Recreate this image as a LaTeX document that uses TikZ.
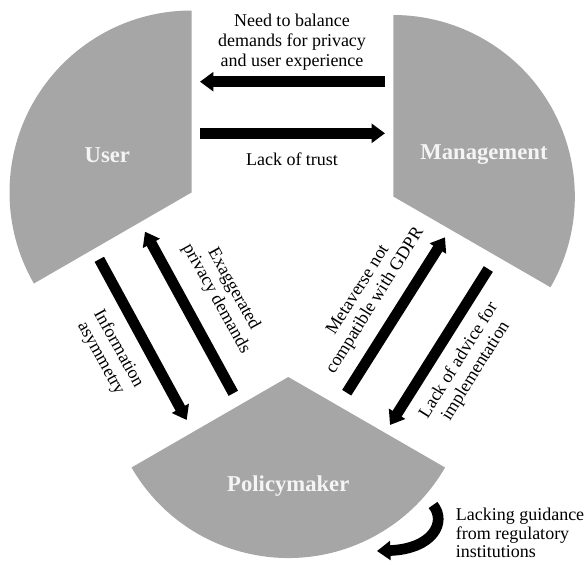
\documentclass[tikz,border=0pt]{standalone}
\usepackage{fontspec}
\setmainfont{Liberation Serif}
\usetikzlibrary{arrows.meta}
\definecolor{sectgray}{RGB}{166,166,166}
\definecolor{labwhite}{RGB}{244,244,244}
\begin{document}
\begin{tikzpicture}[x=0.75pt,y=0.75pt,
  sector/.style={fill=sectgray},
  seclabel/.style={text=labwhite,font=\fontsize{17}{20}\selectfont\bfseries,inner sep=0pt},
  txt/.style={font=\fontsize{13.5}{15}\selectfont,align=center,inner sep=0pt},
  bigarrow/.style={line width=8pt,-{Triangle[width=14pt,length=10pt]}},
]
\useasboundingbox (0,0) rectangle (585,-564);
% sectors
\fill[sector] (191.5,-192.5) -- ++(90:182) arc[start angle=90,end angle=210,radius=182] -- cycle;
\fill[sector] (393.3,-196.5) -- ++(-30:181.5) arc[start angle=-30,end angle=90,radius=181.5] -- cycle;
\fill[sector] (288.3,-377) -- ++(210:181) arc[start angle=210,end angle=330,radius=181] -- cycle;
% sector labels
\node[seclabel] (user) at (107.3,-155) {User};
\node[seclabel] (mgmt) at (484,-155) {Management};
\node[seclabel] (policy) at (288.3,-486) {Policymaker};
% arrow end points
\coordinate (a1s) at (385,-81.7);
\coordinate (a1e) at (200,-81.7);
\coordinate (a2s) at (200,-133.3);
\coordinate (a2e) at (385,-133.3);
\coordinate (infs) at (99.3,-259.3);
\coordinate (infe) at (186.7,-420);
\coordinate (exs) at (233.3,-393.3);
\coordinate (exe) at (145,-231.7);
\coordinate (mes) at (346.7,-392.7);
\coordinate (mee) at (445,-237.3);
\coordinate (ads) at (488.3,-269);
\coordinate (ade) at (390,-425);
\coordinate (cs) at (433,-505);
\coordinate (ce) at (377,-551);
% arrows
\draw[bigarrow] (a1s) -- (a1e);
\draw[bigarrow] (a2s) -- (a2e);
\draw[bigarrow] (infs) -- (infe);
\draw[bigarrow] (exs) -- (exe);
\draw[bigarrow] (mes) -- (mee);
\draw[bigarrow] (ads) -- (ade);
\draw[bigarrow] (cs) .. controls (447,-522) and (433,-549) .. (ce);
% labels
\node[txt] (t1) at (292,-42) {Need to balance\\demands for privacy\\and user experience};
\node[txt] (t2) at (292,-159) {Lack of trust};
\node[txt,rotate=-61] (t3) at (224.8,-294) {Exaggerated\\privacy demands};
\node[txt,rotate=-61] (t4) at (109.5,-353.7) {Information\\asymmetry};
\node[txt,rotate=58] (t5) at (367,-295.7) {Metaverse not\\compatible with GDPR};
\node[txt,rotate=58] (t6) at (467.5,-365.8) {Lack of advice for\\implementation};
\node[txt,align=left,anchor=west,font=\fontsize{13.5}{13.8}\selectfont] (t7) at (455.5,-533) {Lacking guidance\\from regulatory\\institutions};
\end{tikzpicture}
\end{document}
